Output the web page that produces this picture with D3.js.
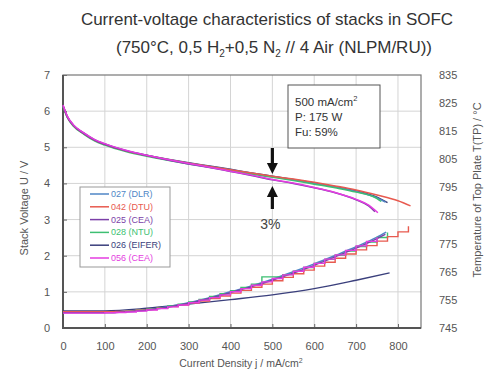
<!DOCTYPE html>
<html><head><meta charset="utf-8">
<script src="https://cdn.jsdelivr.net/npm/d3@7"></script>
<style>body{margin:0;background:#fff;} text{font-family:"Liberation Sans",Arial,sans-serif;}</style>
</head><body><svg id="c" width="494" height="371"></svg>
<script>
// ---------- data ----------
const seriesNames = ["027 (DLR)","042 (DTU)","025 (CEA)","028 (NTU)","026 (EIFER)","056 (CEA)"];
const seriesColors = ["#4f86c6","#e85a4f","#7b3fa8","#3dbf72","#3a3f7c","#e43de0"];
const xTicks = [0,100,200,300,400,500,600,700,800];
const yTicksLeft = [0,1,2,3,4,5,6,7];
const yTicksRight = [745,755,765,775,785,795,805,815,825,835];

// voltage curves (current density mA/cm², stack voltage V)
const vJ = [0,10,25,50,75,100,150,200,250,300,350,400,450,500,550,600,650,700,750];
const vUpper = [6.15,5.85,5.6,5.38,5.2,5.08,4.9,4.77,4.66,4.56,4.47,4.38,4.28,4.19,4.1,4.0,3.9,3.78,3.6];
const v027 = {j:[...vJ,770], v:[...vUpper,3.48]};
const v042 = {j:[...vJ,800,830], v:[6.15,5.85,5.6,5.38,5.2,5.08,4.9,4.77,4.66,4.56,4.47,4.38,4.29,4.2,4.12,4.03,3.93,3.82,3.68,3.52,3.38]};
const v025 = {j:[...vJ.slice(0,-1),730,745], v:[6.15,5.85,5.6,5.38,5.2,5.08,4.9,4.77,4.65,4.54,4.44,4.33,4.22,4.1,4.0,3.88,3.74,3.55,3.38,3.22]};
const v028 = {j:[...vJ,760], v:[6.12,5.83,5.58,5.36,5.18,5.06,4.88,4.75,4.64,4.54,4.45,4.36,4.26,4.17,4.08,3.98,3.88,3.76,3.58,3.5]};
const v026 = {j:[...vJ,775], v:[6.15,5.86,5.61,5.39,5.21,5.09,4.91,4.78,4.67,4.57,4.48,4.39,4.29,4.2,4.11,4.01,3.91,3.79,3.62,3.47]};
const v056 = {j:[...vJ.slice(0,-1),730,752], v:[6.17,5.87,5.62,5.4,5.22,5.1,4.92,4.78,4.66,4.55,4.45,4.34,4.23,4.11,4.01,3.89,3.75,3.56,3.4,3.19]};

// top plate temperature curves (°C)
const tJ = [0,25,50,75,100,125,150,175,200,225,250,275,300,325,350,375,400,425,450,475,500,525,550,575,600,625,650,675,700,725,750,775,800,825];
const t027 = {j:[0,100,150,200,250,300,350,400,450,500,550,600,650,700,750,772], t:[750.6,750.6,750.9,751.5,752.6,754,755.8,757.9,760,762.4,765,767.8,770.8,773.9,777.3,779.1]};
const t042 = {j:tJ, t:[750.8,750.8,750.8,750.8,750.8,750.9,751.0,751.3,751.6,752.0,752.6,753.2,753.9,754.6,755.5,756.4,757.4,758.4,759.5,760.6,761.8,763.0,764.3,765.6,767.0,768.4,769.8,771.3,772.8,774.3,775.9,777.5,779.2,781.2]};
const t025 = {j:[0,100,150,200,250,300,350,400,450,500,550,600,650,700,750,770], t:[750.4,750.4,750.7,751.3,752.4,753.8,755.6,757.6,759.7,762,764.5,767.3,770.3,773.4,776.8,778.3]};
const t028 = {j:tJ.slice(0,32), t:[750.6,750.6,750.6,750.6,750.7,750.8,751.0,751.3,751.7,752.2,752.8,753.5,754.3,755.2,756.2,757.2,758.3,759.4,760.6,763.2,763.2,764.0,765.2,766.5,768.0,769.4,770.9,772.4,774.0,775.6,777.2,779.0]};
const t026 = {j:[0,100,200,300,400,500,600,700,780], t:[751.1,751.1,752,753.5,755.1,756.8,759,762,764.6]};
const t056 = {j:tJ.slice(0,31), t:[750.3,750.3,750.3,750.3,750.4,750.5,750.7,751.0,751.4,751.9,752.5,753.2,754.0,754.9,755.8,756.8,757.9,759.0,760.2,761.4,762.6,763.9,765.2,766.6,768.0,769.5,771.0,772.6,774.2,775.8,777.3]};

const voltage = [v027,v042,v025,v028,v026,v056];
const temperature = [t027,t042,t025,t028,t026,t056];
const stepped = [false,true,false,true,false,true];

// ---------- drawing ----------
const svg = d3.select("#c");
const L=63, R=421, T=75, B=328;
const x = d3.scaleLinear().domain([0,855]).range([L,R]);
const yL = d3.scaleLinear().domain([0,7]).range([B,T]);
const yR = d3.scaleLinear().domain([745,835]).range([B,T]);

// title
svg.append("text").attr("x",267).attr("y",25).attr("text-anchor","middle")
  .attr("font-size",17).attr("fill","#333").text("Current-voltage characteristics of stacks in SOFC");
const t2 = svg.append("text").attr("x",274).attr("y",53).attr("text-anchor","middle")
  .attr("font-size",17).attr("fill","#333");
t2.append("tspan").text("(750°C, 0,5 H");
t2.append("tspan").attr("font-size",10).attr("dy",4).text("2");
t2.append("tspan").attr("dy",-4).text("+0,5 N");
t2.append("tspan").attr("font-size",10).attr("dy",4).text("2");
t2.append("tspan").attr("dy",-4).text(" // 4 Air (NLPM/RU))");

// grid
const g = svg.append("g");
g.selectAll(".vg").data(xTicks.filter(d=>d>0)).join("line")
  .attr("x1",d=>x(d)).attr("x2",d=>x(d)).attr("y1",T).attr("y2",B)
  .attr("stroke","#d4d4d4").attr("stroke-width",1);
g.selectAll(".hg").data(yTicksLeft.filter(d=>d>0&&d<7)).join("line")
  .attr("x1",L).attr("x2",R).attr("y1",d=>yL(d)).attr("y2",d=>yL(d))
  .attr("stroke","#d4d4d4").attr("stroke-width",1);

// axes
const ax = svg.append("g").attr("transform",`translate(0,${B})`)
  .call(d3.axisBottom(x).tickValues(xTicks).tickSize(-4).tickPadding(14));
const ay = svg.append("g").attr("transform",`translate(${L},0)`)
  .call(d3.axisLeft(yL).tickValues(yTicksLeft).tickFormat(d3.format("d")).tickSize(-4).tickPadding(13));
const ayr = svg.append("g").attr("transform",`translate(${R},0)`)
  .call(d3.axisRight(yR).tickValues(yTicksRight).tickSize(0).tickPadding(18));
[ax,ay,ayr].forEach(a=>{
  a.select(".domain").remove();
  a.selectAll("text").attr("font-size",11).attr("fill","#555").attr("font-family","Liberation Sans, Arial, sans-serif");
  a.selectAll("line").attr("stroke","#666");
});
// frame
svg.append("rect").attr("x",L).attr("y",T).attr("width",R-L).attr("height",B-T)
  .attr("fill","none").attr("stroke","#777").attr("stroke-width",1.2);
svg.append("line").attr("x1",L).attr("x2",L).attr("y1",T).attr("y2",B+1).attr("stroke","#555").attr("stroke-width",2);
svg.append("line").attr("x1",L-1).attr("x2",R).attr("y1",B).attr("y2",B).attr("stroke","#555").attr("stroke-width",2);

// axis titles
svg.append("text").attr("transform","translate(28,208) rotate(-90)").attr("text-anchor","middle")
  .attr("font-size",11).attr("fill","#555").text("Stack Voltage U / V");
svg.append("text").attr("transform","translate(481,190) rotate(-90)").attr("text-anchor","middle")
  .attr("font-size",11).attr("fill","#555").text("Temperature of Top Plate T(TP) / °C");
const xt = svg.append("text").attr("x",241).attr("y",367).attr("text-anchor","middle")
  .attr("font-size",10.5).attr("fill","#555");
xt.append("tspan").text("Current Density j / mA/cm");
xt.append("tspan").attr("font-size",7).attr("dy",-4).text("2");

// curves
const plot = svg.append("g");
const order = [4,0,3,1,2,5];
order.forEach(i=>{
  const tv = temperature[i];
  const lineT = d3.line().x((d,k)=>x(tv.j[k])).y(d=>yR(d)).curve(stepped[i]?d3.curveStepAfter:d3.curveMonotoneX);
  plot.append("path").attr("d",lineT(tv.t)).attr("fill","none")
    .attr("stroke",seriesColors[i]).attr("stroke-width",1.4);
});
order.forEach(i=>{
  const vv = voltage[i];
  const lineV = d3.line().x((d,k)=>x(vv.j[k])).y(d=>yL(d)).curve(d3.curveMonotoneX);
  plot.append("path").attr("d",lineV(vv.v)).attr("fill","none")
    .attr("stroke",seriesColors[i]).attr("stroke-width",1.5);
});

// legend
const lg = svg.append("g");
lg.append("rect").attr("x",80).attr("y",187).attr("width",90).attr("height",80)
  .attr("fill","#fff").attr("stroke","#999").attr("stroke-width",1);
seriesNames.forEach((n,i)=>{
  const yy = 194 + i*12.8;
  lg.append("line").attr("x1",90).attr("x2",109).attr("y1",yy).attr("y2",yy)
    .attr("stroke",seriesColors[i]).attr("stroke-width",1.5);
  lg.append("text").attr("x",111).attr("y",yy+3).attr("font-size",9)
    .attr("fill",seriesColors[i]).text(n);
});

// annotation box
svg.append("rect").attr("x",288).attr("y",85).attr("width",92).attr("height",63)
  .attr("fill","#fff").attr("stroke","#555").attr("stroke-width",1);
const a1 = svg.append("text").attr("x",295).attr("y",106).attr("font-size",11.5).attr("fill","#333");
a1.append("tspan").text("500 mA/cm");
a1.append("tspan").attr("font-size",7.5).attr("dy",-5).text("2");
svg.append("text").attr("x",295).attr("y",121).attr("font-size",11.5).attr("fill","#333").text("P: 175 W");
svg.append("text").attr("x",295).attr("y",136).attr("font-size",11.5).attr("fill","#333").text("Fu: 59%");

// arrows
const ar = svg.append("g").attr("fill","#111");
const axp = x(500);
ar.append("rect").attr("x",axp-1.6).attr("y",148).attr("width",3.2).attr("height",16);
ar.append("path").attr("d",`M${axp-5.5},163 L${axp+5.5},163 L${axp},174 Z`);
ar.append("path").attr("d",`M${axp-5.5},197 L${axp+5.5},197 L${axp},186 Z`);
ar.append("rect").attr("x",axp-1.6).attr("y",196).attr("width",3.2).attr("height",13);
svg.append("text").attr("x",axp-2).attr("y",229).attr("text-anchor","middle")
  .attr("font-size",14).attr("fill","#444").text("3%");
</script></body></html>
